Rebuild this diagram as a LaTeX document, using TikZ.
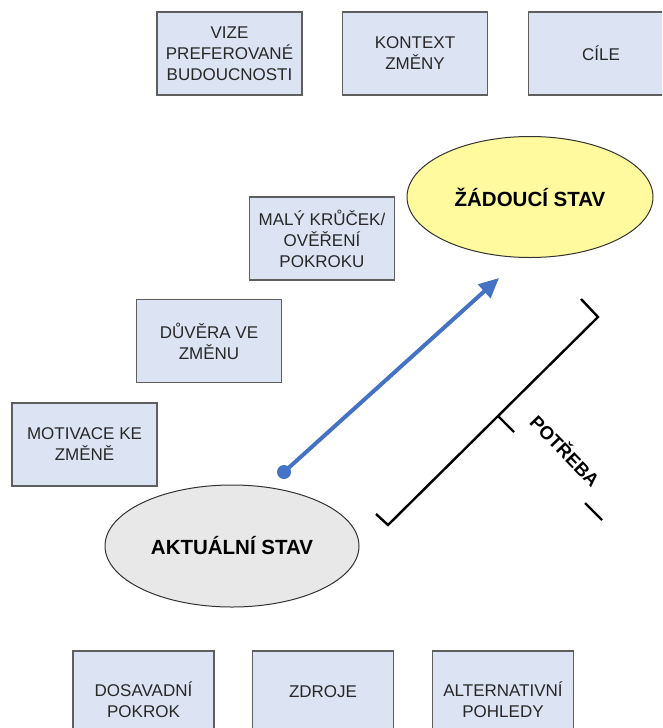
\documentclass[tikz,border=0pt]{standalone}
\usepackage{fontspec}
\setmainfont{Liberation Sans}
\usetikzlibrary{arrows.meta,shapes.geometric}

\definecolor{boxfill}{RGB}{220,227,242}
\definecolor{boxline}{RGB}{95,95,95}
\definecolor{boxtext}{RGB}{40,40,40}
\definecolor{goalfill}{RGB}{255,250,158}
\definecolor{nowfill}{RGB}{232,232,232}
\definecolor{arrowblue}{RGB}{68,114,196}

\tikzset{
  boxfont/.style={font=\fontsize{17}{21}\selectfont, text=boxtext, align=center},
  infobox/.style={draw=boxline, line width=1.1pt, fill=boxfill,
    minimum width=145pt, minimum height=83pt, inner sep=0pt, boxfont},
  lowbox/.style={infobox, minimum width=141pt, minimum height=90pt},
  statebox/.style={ellipse, draw=black!80, line width=1pt,
    inner sep=0pt, font=\fontsize{20.5}{24}\selectfont\bfseries},
  pathline/.style={draw=arrowblue, line width=4pt,
    -{Triangle[length=20pt,width=18pt]}},
  bracketline/.style={draw=black, line width=2.4pt, line join=miter},
}

\begin{document}
\begin{tikzpicture}[x=1pt,y=-1pt]
  \useasboundingbox (0,0) rectangle (662,728);
  \clip (0,0) rectangle (662,728);

  % top row of context boxes
  \node[infobox] (vize) at (229.5,53.5) {VIZE\\PREFEROVANÉ\\BUDOUCNOSTI};
  \node[infobox] (kontext) at (415,53.5) {KONTEXT\\ZMĚNY};
  \node[infobox] (cile) at (601,53.5) {CÍLE};

  % stepping stones towards the goal
  \node[infobox] (krucek) at (322,238.5) {MALÝ KRŮČEK/\\OVĚŘENÍ\\POKROKU};
  \node[infobox] (duvera) at (209,341) {DŮVĚRA VE\\ZMĚNU};
  \node[infobox] (motivace) at (84.5,444.5) {MOTIVACE KE\\ZMĚNĚ};

  % bottom row of resource boxes (running off the lower edge)
  \node[lowbox] (dosavadni) at (143.5,696) {};
  \node[boxfont] (dosavadniText) at (143.5,700) {DOSAVADNÍ\\POKROK};
  \node[lowbox] (zdroje) at (323,696) {};
  \node[boxfont] (zdrojeText) at (323,692) {ZDROJE};
  \node[lowbox] (alternativni) at (503,696) {};
  \node[boxfont] (alternativniText) at (503,700) {ALTERNATIVNÍ\\POHLEDY};

  % current and desired state
  \node[statebox, fill=nowfill, minimum width=254pt, minimum height=122pt]
    (aktualni) at (232,546) {AKTUÁLNÍ STAV};
  \node[statebox, fill=goalfill, minimum width=246pt, minimum height=121pt]
    (zadouci) at (530,197) {ŽÁDOUCÍ STAV};

  % path from the current state to the goal
  \node[circle, fill=arrowblue, minimum size=14pt, inner sep=0pt] (start) at (284,472) {};
  \coordinate (tip) at (499,278);
  \draw[pathline] (start.center) -- (tip);

  % bracket marking the need
  \coordinate (bTopTick) at (581,299);
  \coordinate (bTop) at (598,317);
  \coordinate (bBot) at (388,525);
  \coordinate (bBotTick) at (376,514);
  \coordinate (bMid) at (498,416);
  \coordinate (bMidTick) at (514,432);
  \coordinate (dimA) at (585,503);
  \coordinate (dimB) at (602,520);
  \draw[bracketline] (bTopTick) -- (bTop) -- (bBot) -- (bBotTick);
  \draw[bracketline] (bMid) -- (bMidTick);
  \draw[bracketline] (dimA) -- (dimB);
  \node[rotate=-46, font=\fontsize{18.5}{22}\selectfont\bfseries] (potreba) at (566,450) {POTŘEBA};
\end{tikzpicture}
\end{document}
